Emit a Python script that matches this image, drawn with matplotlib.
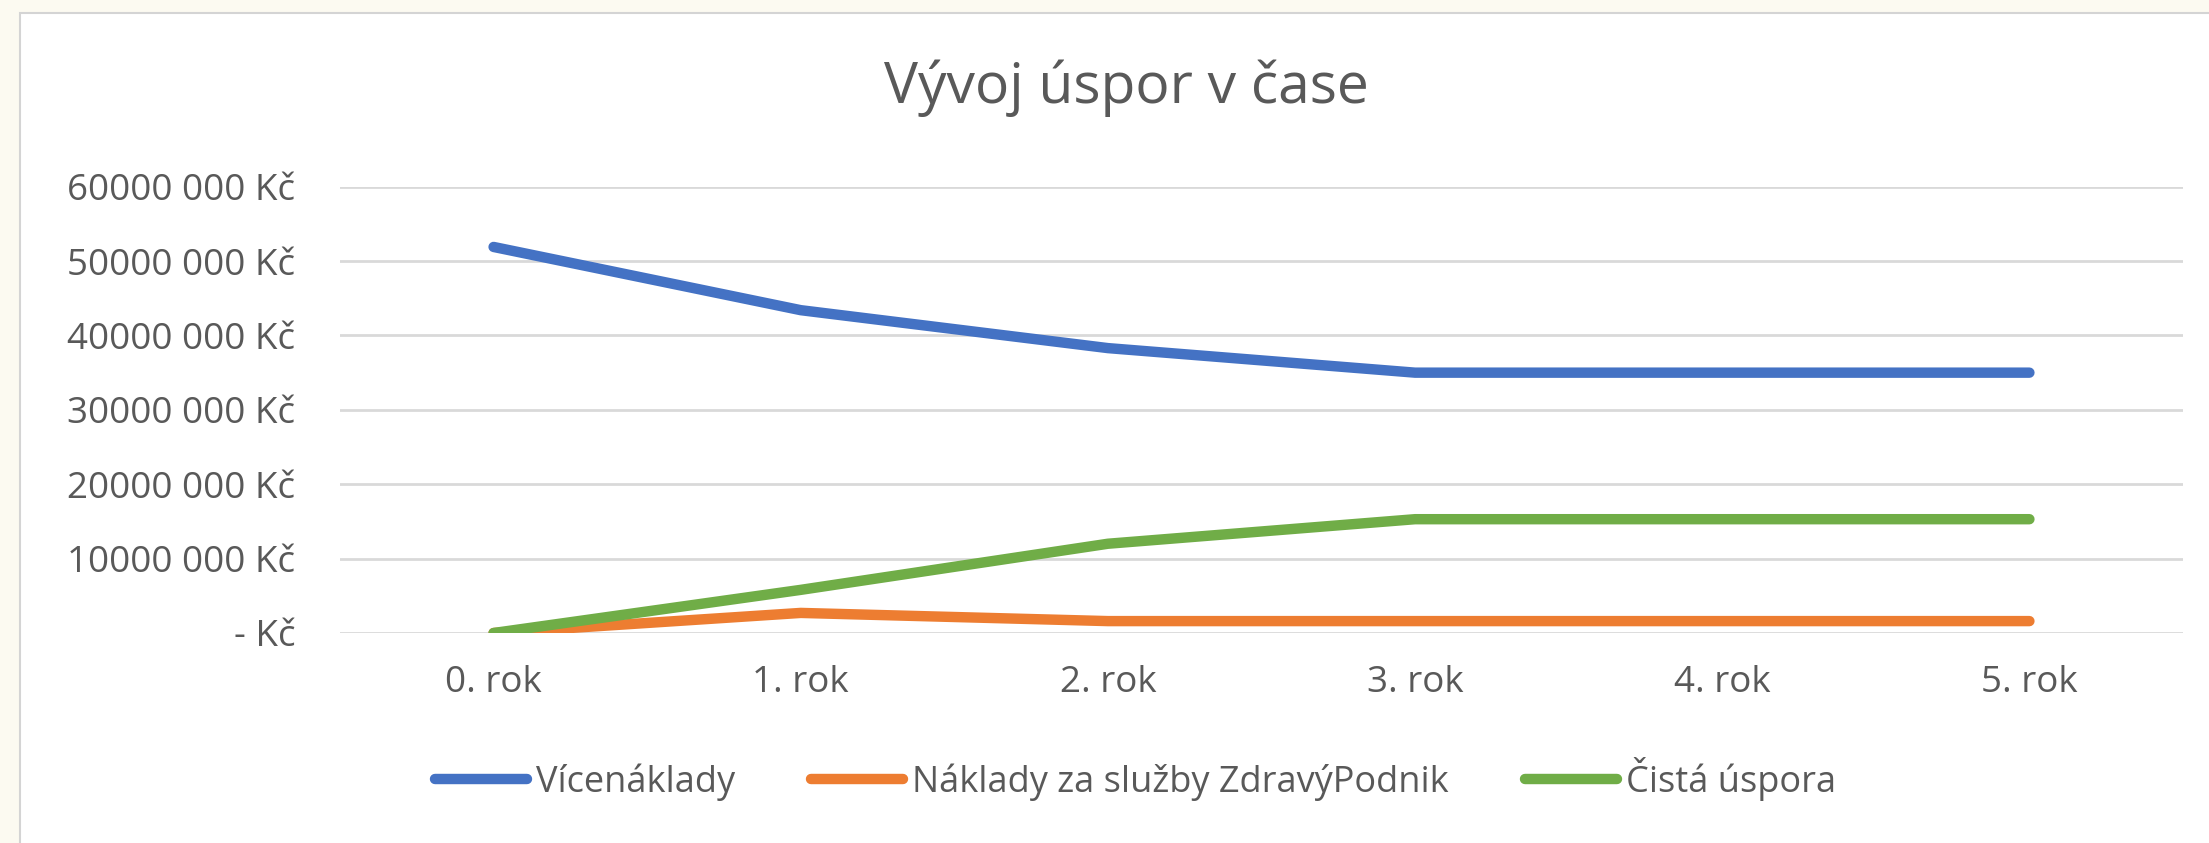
import matplotlib.pyplot as plt
from matplotlib.patches import Rectangle

# data (values in Kč)
roky = ['0. rok', '1. rok', '2. rok', '3. rok', '4. rok', '5. rok']
vicenaklady = [51900000, 43400000, 38300000, 35000000, 35000000, 35000000]
naklady_zp = [0, 2700000, 1600000, 1600000, 1600000, 1600000]
cista_uspora = [0, 5800000, 12000000, 15300000, 15300000, 15300000]

y_ticks = [0, 10000000, 20000000, 30000000, 40000000, 50000000, 60000000]
y_labels = ['- Kč', '10000 000 Kč', '20000 000 Kč', '30000 000 Kč',
            '40000 000 Kč', '50000 000 Kč', '60000 000 Kč']

plt.rcParams['font.family'] = ['Open Sans', 'DejaVu Sans']
txt = '#595959'

fig = plt.figure(figsize=(22.09, 8.43), dpi=100)
fig.patch.set_facecolor('#FCFAF1')
# white chart area with thin border
fig.patches.append(Rectangle((20 / 2209, -0.05), 1.1, 1 - 13 / 843 + 0.05,
                             transform=fig.transFigure, facecolor='white',
                             edgecolor='#D4D4D4', linewidth=1.5, zorder=-1))

ax = fig.add_axes([340 / 2209, 1 - 633 / 843, (2183 - 340) / 2209, (633 - 186.7) / 843])
ax.set_facecolor('none')
ax.set_zorder(1)

x = range(len(roky))
ax.plot(x, vicenaklady, color='#4472C4', lw=7.5, solid_capstyle='round', label='Vícenáklady', zorder=3)
ax.plot(x, naklady_zp, color='#ED7D31', lw=7.5, solid_capstyle='round', label='Náklady za služby ZdravýPodnik', zorder=3)
ax.plot(x, cista_uspora, color='#70AD47', lw=7.5, solid_capstyle='round', label='Čistá úspora', zorder=3)

ax.set_xlim(-0.5, 5.5)
ax.set_ylim(0, 60000000)
ax.set_xticks(list(x))
ax.set_xticklabels(roky)
ax.set_yticks(y_ticks)
ax.set_yticklabels(y_labels)
ax.tick_params(axis='both', length=0, labelsize=26.5, labelcolor=txt)
ax.tick_params(axis='y', pad=32)
ax.tick_params(axis='x', pad=23)
ax.grid(axis='y', color='#D9D9D9', lw=2)
ax.set_axisbelow(True)
for s in ax.spines.values():
    s.set_visible(False)

fig.text(0.51, 1 - 88 / 843, 'Vývoj úspor v čase', ha='center', va='center',
         fontsize=41, color=txt)

fig.legend(loc='center', bbox_to_anchor=(0.514, 1 - 779 / 843), ncol=3, frameon=False,
           fontsize=26, labelcolor=txt, handlelength=2.55, handletextpad=0.25,
           columnspacing=2.1)

plt.savefig('out.png', dpi=100, facecolor=fig.get_facecolor())
